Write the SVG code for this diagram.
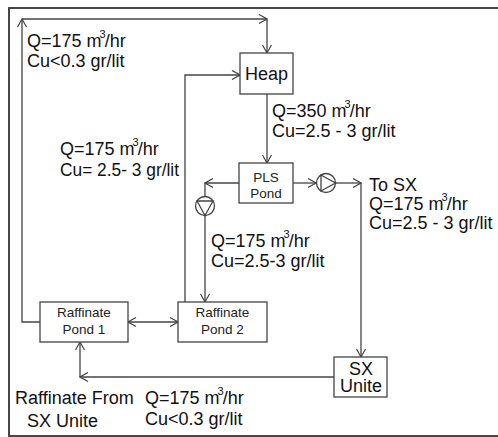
<svg xmlns="http://www.w3.org/2000/svg" width="498" height="437" viewBox="0 0 498 437">
<defs>
<marker id="ah" viewBox="0 0 10 10" refX="9" refY="5" markerWidth="10" markerHeight="10" markerUnits="userSpaceOnUse" orient="auto-start-reverse">
<path d="M1,0.5 L9,5 L1,9.5" fill="none" stroke="#444" stroke-width="1.2"/>
</marker>
<style>
.ln{fill:none;stroke:#444;stroke-width:1.3}
.bx{fill:#fff;stroke:#444;stroke-width:1.3}
.t{font-family:"Liberation Sans",Arial,sans-serif;font-size:18px;fill:#111}
.s{font-family:"Liberation Sans",Arial,sans-serif;font-size:13.5px;fill:#222}
.sup{font-size:11px}
</style>
</defs>
<rect x="0" y="0" width="498" height="437" fill="#fff"/>
<rect x="9" y="8" width="500" height="428" fill="none" stroke="#333" stroke-width="1.8"/>

<g id="connectors">
<path class="ln" d="M40,322 H22 V19" marker-end="url(#ah)"/>
<path class="ln" d="M22,19 H267" marker-end="url(#ah)"/>
<path class="ln" d="M267,19 V53" marker-end="url(#ah)"/>
<path class="ln" d="M185,302 V75 H240" marker-end="url(#ah)"/>
<path class="ln" d="M267,94 V163" marker-end="url(#ah)"/>
<path class="ln" d="M239,183 H205" marker-end="url(#ah)"/>
<path class="ln" d="M205,183 V302" marker-end="url(#ah)"/>
<path class="ln" d="M293,183 H316" marker-end="url(#ah)"/>
<path class="ln" d="M335,183 H361" marker-end="url(#ah)"/>
<path class="ln" d="M361,183 V357" marker-end="url(#ah)"/>
<path class="ln" d="M334,377 H80" marker-end="url(#ah)"/>
<path class="ln" d="M80,377 V342" marker-end="url(#ah)"/>
<path class="ln" d="M128,322 H178" marker-start="url(#ah)" marker-end="url(#ah)"/>
</g>

<g id="pump1">
<circle class="bx" cx="205" cy="206" r="9.5"/>
<path class="ln" d="M197,201 L213,201 L205,215.5 Z"/>
</g>
<g id="pump2">
<circle class="bx" cx="326" cy="183" r="9.5"/>
<path class="ln" d="M321,175 L321,191 L335.5,183 Z"/>
</g>

<g id="heap">
<rect class="bx" x="240" y="53" width="53" height="41"/>
<text class="t" x="266.5" y="80" text-anchor="middle">Heap</text>
</g>
<g id="pls">
<rect class="bx" x="239" y="163" width="54" height="40"/>
<text class="s" x="266" y="182" text-anchor="middle">PLS</text>
<text class="s" x="266" y="198" text-anchor="middle">Pond</text>
</g>
<g id="pond1">
<rect class="bx" x="40" y="302" width="88" height="40"/>
<text class="s" x="84" y="317" text-anchor="middle">Raffinate</text>
<text class="s" x="84" y="334" text-anchor="middle">Pond 1</text>
</g>
<g id="pond2">
<rect class="bx" x="178" y="302" width="89" height="40"/>
<text class="s" x="222.5" y="317" text-anchor="middle">Raffinate</text>
<text class="s" x="222.5" y="334" text-anchor="middle">Pond 2</text>
</g>
<g id="sx">
<rect class="bx" x="334" y="357" width="53" height="40"/>
<text class="t" x="361" y="375" text-anchor="middle">SX</text>
<text class="t" x="361" y="392" text-anchor="middle">Unite</text>
</g>

<g id="labels">
<text class="t" x="27" y="47">Q=175 m<tspan class="sup" dx="-2" dy="-9">3</tspan><tspan dx="-1" dy="9">/hr</tspan></text>
<text class="t" x="27" y="67">Cu&lt;0.3 gr/lit</text>

<text class="t" x="272" y="117">Q=350 m<tspan class="sup" dx="-2" dy="-9">3</tspan><tspan dx="-1" dy="9">/hr</tspan></text>
<text class="t" x="272" y="137">Cu=2.5 - 3 gr/lit</text>

<text class="t" x="60" y="155">Q=175 m<tspan class="sup" dx="-2" dy="-9">3</tspan><tspan dx="-1" dy="9">/hr</tspan></text>
<text class="t" x="60" y="176" textLength="119" lengthAdjust="spacingAndGlyphs">Cu= 2.5- 3 gr/lit</text>

<text class="t" x="369" y="191">To SX</text>
<text class="t" x="369" y="210">Q=175 m<tspan class="sup" dx="-2" dy="-9">3</tspan><tspan dx="-1" dy="9">/hr</tspan></text>
<text class="t" x="369" y="229">Cu=2.5 - 3 gr/lit</text>

<text class="t" x="211" y="247">Q=175 m<tspan class="sup" dx="-2" dy="-9">3</tspan><tspan dx="-1" dy="9">/hr</tspan></text>
<text class="t" x="211" y="267">Cu=2.5-3 gr/lit</text>

<text class="t" x="15" y="404">Raffinate From</text>
<text class="t" x="27" y="427">SX Unite</text>

<text class="t" x="145" y="404">Q=175 m<tspan class="sup" dx="-2" dy="-9">3</tspan><tspan dx="-1" dy="9">/hr</tspan></text>
<text class="t" x="145" y="425">Cu&lt;0.3 gr/lit</text>
</g>
</svg>
